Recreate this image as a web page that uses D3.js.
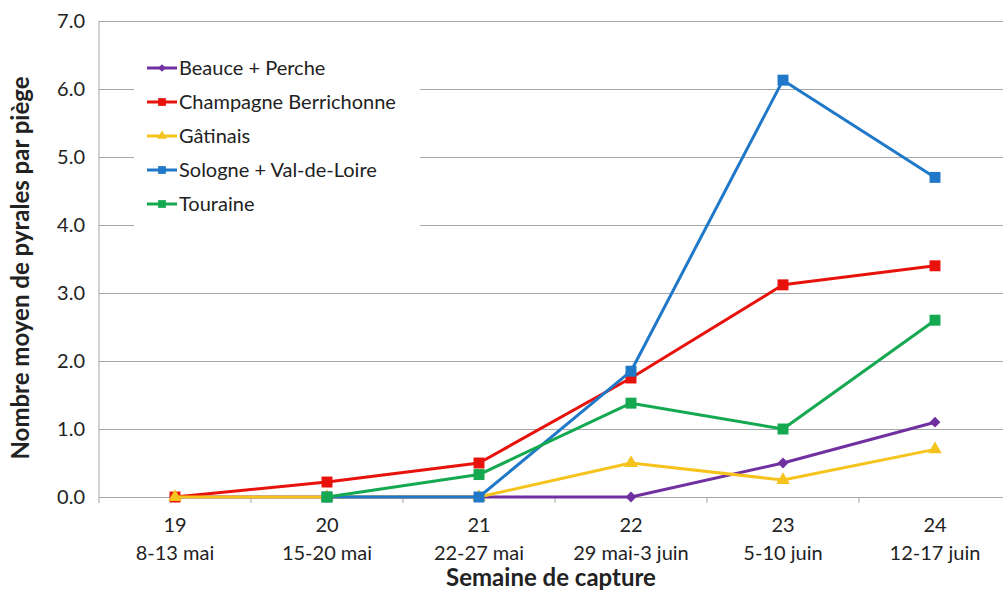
<!DOCTYPE html>
<html>
<head>
<meta charset="utf-8">
<script src="https://cdn.jsdelivr.net/npm/d3@7"></script>
<style>
  body { margin: 0; background: #fff; }
  text { font-family: Lato, "Open Sans", sans-serif; fill: #222; }
</style>
</head>
<body>
<svg id="chart" width="1003" height="590"></svg>
<script>
var weeks = ["19", "20", "21", "22", "23", "24"];
var dates = ["8-13 mai", "15-20 mai", "22-27 mai", "29 mai-3 juin", "5-10 juin", "12-17 juin"];

var beauce = [0, 0, 0, 0, 0.5, 1.1];
var champagne = [0, 0.22, 0.5, 1.75, 3.12, 3.4];
var gatinais = [0, 0, 0, 0.5, 0.25, 0.7];
var sologne = [null, 0, 0, 1.85, 6.13, 4.7];
var touraine = [null, 0, 0.33, 1.38, 1.0, 2.6];

var seriesNames = ["Beauce + Perche", "Champagne Berrichonne", "Gâtinais", "Sologne + Val-de-Loire", "Touraine"];
var seriesValues = [beauce, champagne, gatinais, sologne, touraine];
var seriesColors = ["#7030a0", "#e8120c", "#f5c31c", "#1f78c8", "#14a850"];
var diamond = d3.symbolDiamond2 || d3.symbolDiamond;
var seriesSymbols = [diamond, d3.symbolSquare, d3.symbolTriangle, d3.symbolSquare, d3.symbolSquare];
var symbolSizes = [75, 120, 80, 120, 120];

var yTicks = [0, 1, 2, 3, 4, 5, 6, 7];

var MARGIN = {left: 99, right: 1011, top: 21, bottom: 497};

var svg = d3.select("#chart");

var x = d3.scaleBand().domain(weeks).range([MARGIN.left, MARGIN.right]);
var y = d3.scaleLinear().domain([0, 7]).range([MARGIN.bottom, MARGIN.top]);

// grid
svg.append("g")
  .attr("class", "y-grid")
  .attr("transform", "translate(" + MARGIN.left + " 0)")
  .call(d3.axisLeft(y).tickValues(yTicks).tickSize(10).tickFormat(d3.format(".1f")).tickPadding(4))
  .call(function(g) {
    g.select(".domain").remove();
    g.selectAll("line").attr("stroke", "#a6a6a6").attr("x2", 1003 - MARGIN.left);
    g.selectAll("text").style("font-size", "20px").style("font-family", "Lato, sans-serif").attr("fill", "#222");
  });

// y axis line
svg.append("line")
  .attr("x1", MARGIN.left).attr("x2", MARGIN.left)
  .attr("y1", MARGIN.top).attr("y2", MARGIN.bottom)
  .attr("stroke", "#a6a6a6");

// x axis
svg.append("g")
  .attr("class", "x-axis")
  .attr("transform", "translate(0 " + MARGIN.bottom + ")")
  .call(d3.axisBottom(x).tickSize(0).tickFormat(""))
  .call(function(g) {
    g.select(".domain").attr("stroke", "#a6a6a6");
    g.selectAll(".tick").remove();
  });

svg.append("g")
  .selectAll("line")
  .data(weeks)
  .enter()
  .append("line")
  .attr("x1", function(d) { return x(d); })
  .attr("x2", function(d) { return x(d); })
  .attr("y1", MARGIN.bottom)
  .attr("y2", MARGIN.bottom + 6)
  .attr("stroke", "#a6a6a6");

var labels = svg.append("g").attr("class", "x-labels");
labels.selectAll("text.week")
  .data(weeks)
  .enter()
  .append("text")
  .attr("x", function(d) { return x(d) + x.bandwidth() / 2; })
  .attr("y", 532)
  .attr("text-anchor", "middle")
  .style("font-size", "20px")
  .text(function(d) { return d; });

labels.selectAll("text.date")
  .data(dates)
  .enter()
  .append("text")
  .attr("x", function(d, i) { return x(weeks[i]) + x.bandwidth() / 2; })
  .attr("y", 560)
  .attr("text-anchor", "middle")
  .style("font-size", "20px")
  .text(function(d) { return d; });

svg.append("text")
  .attr("x", 551)
  .attr("y", 586)
  .attr("text-anchor", "middle")
  .style("font-size", "24px")
  .style("font-weight", "bold")
  .text("Semaine de capture");

svg.append("text")
  .attr("transform", "translate(29 " + 268 + ") rotate(-90)")
  .attr("text-anchor", "middle")
  .style("font-size", "24px")
  .style("font-weight", "bold")
  .text("Nombre moyen de pyrales par piège");

// legend background
svg.append("rect")
  .attr("x", 134).attr("y", 48)
  .attr("width", 286).attr("height", 180)
  .attr("fill", "#fff");

// lines
var line = d3.line()
  .defined(function(d) { return d != null; })
  .x(function(d, i) { return x(weeks[i]) + x.bandwidth() / 2; })
  .y(function(d) { return y(d); });

seriesValues.forEach(function(vals, s) {
  var g = svg.append("g").attr("class", "series");
  g.append("path")
    .attr("d", line(vals))
    .attr("fill", "none")
    .attr("stroke", seriesColors[s])
    .attr("stroke-width", 3)
    .attr("stroke-linejoin", "round");
  g.selectAll("path.pt")
    .data(vals.map(function(v, i) { return {v: v, i: i}; }).filter(function(d) { return d.v != null; }))
    .enter()
    .append("path")
    .attr("class", "pt")
    .attr("transform", function(d) {
      return "translate(" + (x(weeks[d.i]) + x.bandwidth() / 2) + " " + y(d.v) + ")";
    })
    .attr("d", d3.symbol().type(seriesSymbols[s]).size(symbolSizes[s]))
    .attr("fill", seriesColors[s]);
});

// legend
var legend = svg.append("g").attr("class", "legend");
seriesNames.forEach(function(name, s) {
  var ly = 68 + s * 34;
  legend.append("line")
    .attr("x1", 147).attr("x2", 177)
    .attr("y1", ly).attr("y2", ly)
    .attr("stroke", seriesColors[s])
    .attr("stroke-width", 3);
  legend.append("path")
    .attr("transform", "translate(162 " + ly + ")")
    .attr("d", d3.symbol().type(seriesSymbols[s]).size(symbolSizes[s] * 0.5))
    .attr("fill", seriesColors[s]);
  legend.append("text")
    .attr("x", 179)
    .attr("y", ly + 7)
    .style("font-size", "20px")
    .text(name);
});
</script>
</body>
</html>
